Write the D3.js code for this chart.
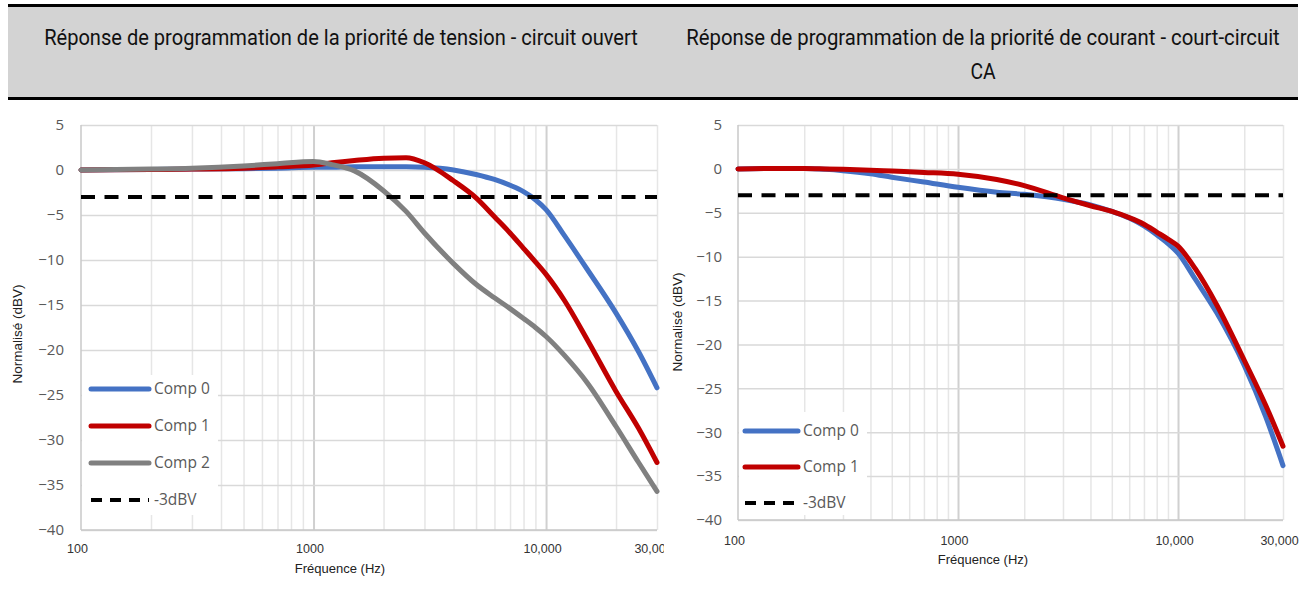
<!DOCTYPE html>
<html>
<head>
<meta charset="utf-8">
<script src="https://cdn.jsdelivr.net/npm/d3@7/dist/d3.min.js"></script>
<style>
    body { margin: 0; background: #fff; }
    svg { display: block; }
</style>
</head>
<body>
<div id="chart"></div>
<script>
//Colores fijos
const COLOR_COMP_0 = '#4472C4',
    COLOR_COMP_1 = '#C00000',
    COLOR_COMP_2 = '#808080',
    COLOR_REF = '#000000',
    COLOR_GRID = '#d9d9d9',
    COLOR_GRID_MINOR = '#e6e6e6',
    COLOR_TICK = '#595959';

//Datos
const TITLE_LEFT = ['Réponse de programmation de la priorité de tension - circuit ouvert'];
const TITLE_RIGHT = ['Réponse de programmation de la priorité de courant - court-circuit', 'CA'];

const FREQ_LEFT = [100, 200, 300, 500, 700, 1000, 1200, 1500, 2000, 2500, 3000, 4000, 5000, 6000, 7000, 8000, 9000, 10000, 12000, 15000, 20000, 25000, 30000];
const COMP0_LEFT = [0, 0.05, 0.1, 0.15, 0.2, 0.3, 0.3, 0.35, 0.35, 0.35, 0.3, 0, -0.5, -1.05, -1.7, -2.4, -3.3, -4.4, -7.3, -11.0, -15.9, -20.2, -24.2];
const COMP1_LEFT = [0, 0.05, 0.1, 0.2, 0.35, 0.55, 0.8, 1.05, 1.3, 1.35, 0.8, -1.2, -3.1, -5.2, -7.0, -8.7, -10.2, -11.6, -14.5, -18.8, -24.6, -28.7, -32.5];
const COMP2_LEFT = [0, 0.1, 0.2, 0.45, 0.7, 0.95, 0.6, -0.1, -2.3, -4.6, -7.0, -10.4, -12.7, -14.2, -15.4, -16.5, -17.5, -18.5, -20.6, -23.6, -28.5, -32.5, -35.7];

const FREQ_RIGHT = [100, 150, 200, 250, 300, 400, 500, 700, 1000, 1500, 2000, 3000, 4000, 5000, 6000, 7000, 8000, 9000, 10000, 12000, 15000, 20000, 25000, 30000];
const COMP0_RIGHT = [0, 0.05, 0.05, -0.05, -0.2, -0.55, -0.95, -1.5, -2.1, -2.65, -2.9, -3.45, -4.1, -4.85, -5.6, -6.5, -7.5, -8.5, -9.6, -12.6, -16.4, -22.4, -28.2, -33.8];
const COMP1_RIGHT = [0, 0.05, 0.05, 0, -0.05, -0.15, -0.25, -0.4, -0.6, -1.2, -1.9, -3.3, -4.2, -4.85, -5.55, -6.3, -7.2, -8.0, -8.8, -11.4, -15.5, -21.8, -26.9, -31.6];

const REF_LEVEL = -3;
const REF_NAME = '-3dBV';
const Y_TICKS = [5, 0, -5, -10, -15, -20, -25, -30, -35, -40];
const X_MAJOR = [100, 1000, 10000];
const X_MINOR = [200, 300, 400, 500, 600, 700, 800, 900, 2000, 3000, 4000, 5000, 6000, 7000, 8000, 9000, 20000, 30000];
const X_TICKS = [100, 1000, 10000, 30000];
const X_TICK_LABELS = ['100', '1000', '10,000', '30,000'];
const X_TITLE = 'Fréquence (Hz)';
const Y_TITLE = 'Normalisé (dBV)';

const W = 1306, H = 597;

let svg = d3.select('#chart')
    .append('svg')
    .attr('width', W)
    .attr('height', H);

//Cabecera
svg.append('rect')
    .attr('x', 8).attr('y', 5)
    .attr('width', 1290).attr('height', 93)
    .attr('fill', '#d3d3d3');
svg.append('line').attr('x1', 8).attr('x2', 1298).attr('y1', 5.5).attr('y2', 5.5)
    .attr('stroke', '#000').attr('stroke-width', 3);
svg.append('line').attr('x1', 8).attr('x2', 1298).attr('y1', 98.5).attr('y2', 98.5)
    .attr('stroke', '#000').attr('stroke-width', 3);

//Títulos con letra estrecha (se comprime en horizontal hasta el ancho del original)
function drawTitle(lines, cx, widths) {
    lines.forEach(function(t, i) {
        let txt = svg.append('text')
            .attr('x', 0)
            .attr('y', 0)
            .attr('text-anchor', 'middle')
            .style('font-family', 'Roboto, sans-serif')
            .style('font-size', '22.5px')
            .attr('fill', '#111')
            .text(t);
        let k = widths[i] ? widths[i] / txt.node().getComputedTextLength() : 0.86;
        txt.attr('transform', 'translate(' + cx + ',' + (45 + i * 34) + ') scale(' + k + ',1)');
    });
}
drawTitle(TITLE_LEFT, 341, [594]);
svg.append('clipPath').attr('id', 'clipLeft')
    .append('rect').attr('x', 0).attr('y', 100).attr('width', 664).attr('height', 497);

function drawPanel(cfg) {
    let g = svg.append('g');
    if (cfg.clip) g.attr('clip-path', 'url(#clipLeft)');

    let x = d3.scaleLog().domain([100, 30000]).range([cfg.x0, cfg.x1]);
    let y = d3.scaleLinear().domain([-40, 5]).range([cfg.y1, cfg.y0]);
    let w = cfg.x1 - cfg.x0, h = cfg.y1 - cfg.y0;

    //Rejilla
    let gMinor = g.append('g')
        .attr('transform', 'translate(0,' + cfg.y1 + ')')
        .call(d3.axisBottom(x).tickValues(X_MINOR).tickSize(-h).tickFormat(''));
    gMinor.select('.domain').remove();
    gMinor.selectAll('line').attr('stroke', COLOR_GRID_MINOR).attr('stroke-width', 1.5);

    let gMajor = g.append('g')
        .attr('transform', 'translate(0,' + cfg.y1 + ')')
        .call(d3.axisBottom(x).tickValues(X_MAJOR.slice(1)).tickSize(-h).tickFormat(''));
    gMajor.select('.domain').remove();
    gMajor.selectAll('line').attr('stroke', '#d0d0d0').attr('stroke-width', 2);

    let gH = g.append('g')
        .attr('transform', 'translate(' + cfg.x0 + ',0)')
        .call(d3.axisLeft(y).tickValues(Y_TICKS).tickSize(-w).tickFormat(''));
    gH.select('.domain').remove();
    gH.selectAll('line').attr('stroke', COLOR_GRID).attr('stroke-width', 1.5);

    //Ejes
    g.append('line').attr('x1', cfg.x0).attr('x2', cfg.x0).attr('y1', cfg.y0).attr('y2', cfg.y1)
        .attr('stroke', '#c8c8c8').attr('stroke-width', 1.5);
    g.append('line').attr('x1', cfg.x0).attr('x2', cfg.x1).attr('y1', cfg.y1).attr('y2', cfg.y1)
        .attr('stroke', '#c8c8c8').attr('stroke-width', 1.5);

    let gY = g.append('g')
        .attr('transform', 'translate(' + cfg.tickX + ',0)')
        .call(d3.axisLeft(y).tickValues(Y_TICKS).tickSize(0).tickPadding(0));
    gY.select('.domain').remove();
    gY.selectAll('text')
        .style('font-family', '"Open Sans", sans-serif')
        .style('font-size', '15px')
        .attr('fill', COLOR_TICK);

    let gX = g.append('g')
        .attr('transform', 'translate(-4,' + cfg.xTickY + ')')
        .call(d3.axisBottom(x).tickValues(X_TICKS).tickSize(0).tickPadding(0)
            .tickFormat(function(d, i) { return X_TICK_LABELS[i]; }));
    gX.select('.domain').remove();
    gX.selectAll('text')
        .attr('dy', 0).attr('y', 0)
        .style('font-family', '"Liberation Sans", Arial, sans-serif')
        .style('font-size', '12.5px')
        .attr('fill', '#333');

    //Títulos de ejes
    g.append('text')
        .attr('x', cfg.xLabelX).attr('y', cfg.xLabelY)
        .attr('text-anchor', 'middle')
        .style('font-family', '"Liberation Sans", Arial, sans-serif')
        .style('font-size', '13px')
        .attr('fill', '#222')
        .text(X_TITLE);
    g.append('text')
        .attr('transform', 'translate(' + cfg.yLabelX + ',' + cfg.yLabelY + ') rotate(-90)')
        .attr('text-anchor', 'middle')
        .style('font-family', '"Liberation Sans", Arial, sans-serif')
        .style('font-size', '13.5px')
        .attr('fill', '#222')
        .text(Y_TITLE);

    //Líneas
    let line = d3.line()
        .x(function(d) { return x(d.f); })
        .y(function(d) { return y(d.v); })
        .curve(d3.curveMonotoneX);

    cfg.series.forEach(function(s) {
        let data = cfg.freq.map(function(f, i) { return { f: f, v: s.values[i] }; });
        g.append('path')
            .datum(data)
            .attr('d', line)
            .attr('fill', 'none')
            .attr('stroke', s.color)
            .attr('stroke-width', 5)
            .attr('stroke-linecap', 'round');
    });

    g.append('path')
        .datum([{ f: 100, v: REF_LEVEL }, { f: 30000, v: REF_LEVEL }])
        .attr('d', line)
        .attr('fill', 'none')
        .attr('stroke', COLOR_REF)
        .attr('stroke-width', 4)
        .attr('stroke-dasharray', '14,9.5');

    //Leyenda
    let lg = cfg.legend;
    let items = cfg.series.map(function(s) { return { name: s.name, color: s.color, dash: null }; })
        .concat([{ name: REF_NAME, color: COLOR_REF, dash: '11,8' }]);
    g.append('rect')
        .attr('x', cfg.x0 + 1).attr('y', lg.top)
        .attr('width', lg.right - cfg.x0 - 1).attr('height', lg.bottom - lg.top)
        .attr('fill', '#fff');
    items.forEach(function(it, i) {
        let yy = lg.y + i * lg.step;
        g.append('line')
            .attr('x1', lg.x1).attr('x2', lg.x2)
            .attr('y1', yy).attr('y2', yy)
            .attr('stroke', it.color)
            .attr('stroke-width', it.dash ? 4 : 5)
            .attr('stroke-linecap', it.dash ? 'butt' : 'round')
            .attr('stroke-dasharray', it.dash);
        g.append('text')
            .attr('x', lg.x2 + 5).attr('y', yy)
            .attr('dy', '0.35em')
            .style('font-family', '"Open Sans", sans-serif')
            .style('font-size', '15.5px')
            .attr('fill', COLOR_TICK)
            .text(it.name);
    });
}

drawPanel({
    clip: true,
    x0: 81, x1: 657, y0: 125, y1: 530,
    tickX: 64, xTickY: 553,
    xLabelX: 340, xLabelY: 573,
    yLabelX: 22, yLabelY: 334,
    freq: FREQ_LEFT,
    series: [
        { name: 'Comp 0', color: COLOR_COMP_0, values: COMP0_LEFT },
        { name: 'Comp 1', color: COLOR_COMP_1, values: COMP1_LEFT },
        { name: 'Comp 2', color: COLOR_COMP_2, values: COMP2_LEFT }
    ],
    legend: { top: 375, bottom: 515, right: 218, x1: 91, x2: 149, y: 389, step: 37 }
});

drawPanel({
    clip: false,
    x0: 738, x1: 1283, y0: 125, y1: 520,
    tickX: 722, xTickY: 545,
    xLabelX: 983, xLabelY: 564,
    yLabelX: 682, yLabelY: 322,
    freq: FREQ_RIGHT,
    series: [
        { name: 'Comp 0', color: COLOR_COMP_0, values: COMP0_RIGHT },
        { name: 'Comp 1', color: COLOR_COMP_1, values: COMP1_RIGHT }
    ],
    legend: { top: 412, bottom: 515, right: 867, x1: 745, x2: 798, y: 431, step: 36 }
});

drawTitle(TITLE_RIGHT, 983, [594, 0]);
</script>
</body>
</html>
